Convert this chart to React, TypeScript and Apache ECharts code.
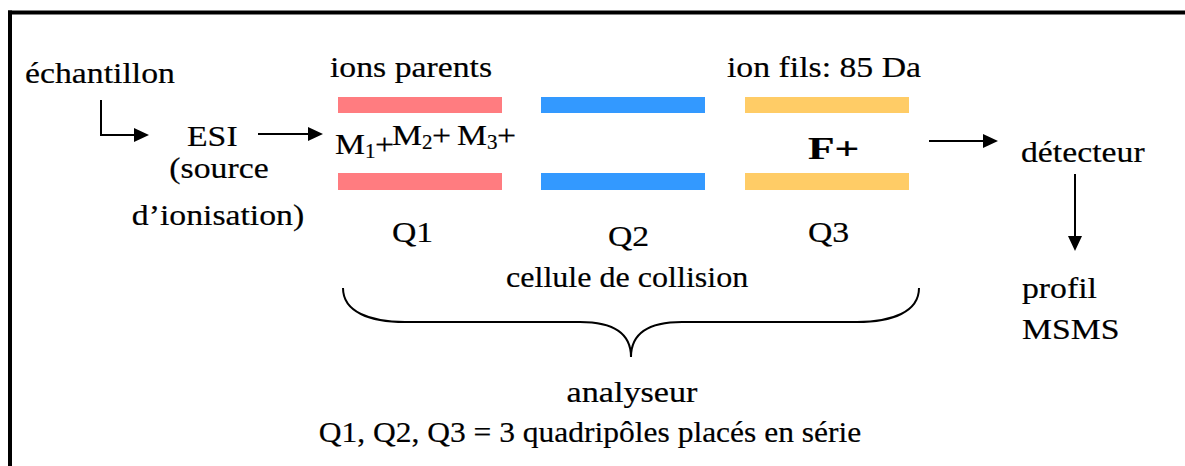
import React, { useEffect, useRef } from "react";
import * as echarts from "echarts";

// ---- content (labels) ----
const inputLabels = ["échantillon", "ESI", "(source", "d’ionisation)"];
const headerLabels = ["ions parents", "ion fils: 85 Da"];
const quadrupoleLabels = ["Q1", "Q2", "Q3"];
const collisionLabel = "cellule de collision";
const parentIons = [
  { base: "M", sub: "1" },
  { base: "M", sub: "2" },
  { base: "M", sub: "3" },
];
const fragmentIon = "F+";
const outputLabels = ["détecteur", "profil", "MSMS"];
const footerLabels = ["analyseur", "Q1, Q2, Q3 = 3 quadripôles placés en série"];

// ---- styles ----
const rodColors = ["#FF7C80", "#3399FF", "#FFCC66"];
const FONT_FAMILY = "Liberation Serif";
const FS = 30;
const SX = 1.125;
const INK = "#000";

function txt(text: string, x: number, baseline: number, opts: any = {}) {
  const size = opts.size ?? FS;
  const align = opts.align ?? "left";
  return {
    type: "text",
    silent: true,
    x,
    y: baseline - size * 0.3375,
    scaleX: opts.sx ?? SX,
    scaleY: 1,
    style: {
      text,
      x: 0,
      y: 0,
      fill: INK,
      stroke: INK,
      lineWidth: 0.2,
      fontFamily: FONT_FAMILY,
      fontSize: size,
      fontWeight: opts.bold ? "bold" : "normal",
      align,
      verticalAlign: "middle",
      textAlign: align,
      textVerticalAlign: "middle",
    },
  };
}

function arrowHead(tipX: number, tipY: number, dir: "right" | "down") {
  const L = 15;
  const H = 7;
  const pts =
    dir === "right"
      ? [
          [tipX - L, tipY - H],
          [tipX, tipY],
          [tipX - L, tipY + H],
        ]
      : [
          [tipX - H, tipY - L],
          [tipX, tipY],
          [tipX + H, tipY - L],
        ];
  return { type: "polygon", silent: true, shape: { points: pts }, style: { fill: INK } };
}

function line(x1: number, y1: number, x2: number, y2: number, w = 2) {
  return {
    type: "line",
    silent: true,
    shape: { x1, y1, x2, y2 },
    style: { stroke: INK, lineWidth: w },
  };
}

function bez(x1: number, y1: number, c1x: number, c1y: number, c2x: number, c2y: number, x2: number, y2: number) {
  return {
    type: "bezierCurve",
    silent: true,
    shape: { x1, y1, cpx1: c1x, cpy1: c1y, cpx2: c2x, cpy2: c2y, x2, y2 },
    style: { stroke: INK, lineWidth: 2, fill: null },
  };
}

function buildElements() {
  const els: any[] = [];

  // frame
  els.push(line(8, 12.5, 1185, 12.5, 4));
  els.push(line(10, 10.5, 10, 466, 4));

  // input side
  els.push(txt(inputLabels[0], 25, 83));
  els.push({
    type: "polyline",
    silent: true,
    shape: { points: [[101, 100], [101, 135], [136, 135]] },
    style: { stroke: INK, lineWidth: 2, fill: null },
  });
  els.push(arrowHead(149, 135, "right"));
  els.push(txt(inputLabels[1], 187, 146));
  els.push(txt(inputLabels[2], 219, 178, { align: "center" }));
  els.push(txt(inputLabels[3], 218, 225, { align: "center" }));
  els.push(line(258, 134, 310, 134));
  els.push(arrowHead(323, 134, "right"));

  // headers
  els.push(txt(headerLabels[0], 330, 77));
  els.push(txt(headerLabels[1], 727, 77));

  // rods
  const rodX = [338, 541, 745];
  const rodW = 164;
  rodX.forEach((x, i) => {
    els.push({ type: "rect", silent: true, shape: { x, y: 97, width: rodW, height: 16 }, style: { fill: rodColors[i] } });
    els.push({ type: "rect", silent: true, shape: { x, y: 173, width: rodW, height: 17 }, style: { fill: rodColors[i] } });
  });

  // parent ions
  const ionLayout = [
    { x: 335, base: 154 },
    { x: 392, base: 145 },
    { x: 457, base: 145 },
  ];
  parentIons.forEach((ion, i) => {
    const L = ionLayout[i];
    els.push(txt(ion.base, L.x, L.base));
    els.push(txt(ion.sub, L.x + 30, L.base + 4, { size: 20, sx: 1.05 }));
    els.push(txt("+", L.x + 40, L.base));
  });

  // fragment
  els.push(txt(fragmentIon, 808, 159, { bold: true, size: 32, sx: 1.36 }));

  // quadrupole labels
  const qPos = [
    [392, 242],
    [608, 246],
    [808, 242],
  ];
  quadrupoleLabels.forEach((q, i) => els.push(txt(q, qPos[i][0], qPos[i][1])));
  els.push(txt(collisionLabel, 506, 287, { sx: 1.07 }));

  // brace
  els.push(bez(343, 288, 343, 312, 370, 322, 405, 322));
  els.push(line(404, 322, 581, 322));
  els.push(bez(580, 322, 615, 322, 631, 335, 631, 357));
  els.push(bez(631, 357, 631, 335, 647, 322, 682, 322));
  els.push(line(681, 322, 858, 322));
  els.push(bez(857, 322, 892, 322, 919, 312, 919, 288));

  // output side
  els.push(line(929, 141, 985, 141));
  els.push(arrowHead(998, 141, "right"));
  els.push(txt(outputLabels[0], 1021, 162));
  els.push(line(1075, 174, 1075, 238));
  els.push(arrowHead(1075, 251, "down"));
  els.push(txt(outputLabels[1], 1022, 298));
  els.push(txt(outputLabels[2], 1022, 339));

  // footer
  els.push(txt(footerLabels[0], 632, 402, { align: "center", sx: 1.14 }));
  els.push(txt(footerLabels[1], 590, 442, { align: "center", sx: 1.05 }));

  return els;
}

export default function App() {
  const ref = useRef<HTMLDivElement>(null);
  useEffect(() => {
    if (!ref.current) return;
    const chart = echarts.init(ref.current, undefined, { renderer: "svg" });
    chart.setOption({
      animation: false,
      backgroundColor: "#fff",
      graphic: { elements: buildElements() },
    });
    return () => chart.dispose();
  }, []);
  return (
    <div
      ref={ref}
      style={{ position: "fixed", left: 0, top: 0, width: 1185, height: 466, background: "#fff" }}
    />
  );
}
